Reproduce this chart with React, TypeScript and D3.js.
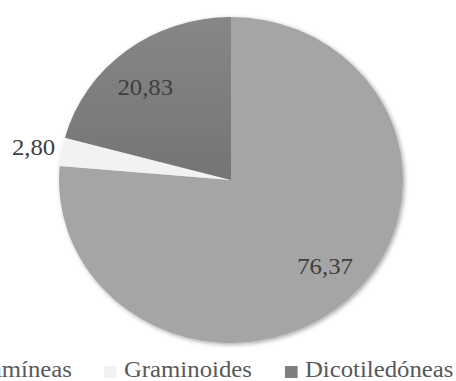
import React from "react";
import * as d3 from "d3";

// Share of each plant group (%)
const categories = ["Gramíneas", "Graminoides", "Dicotiledóneas"];
const values = [76.37, 2.8, 20.83];
const colors = ["#a5a5a5", "#f2f2f2", "#7f7f7f"];

const W = 456;
const H = 381;
const CX = 231;
const CY = 180;
const R = 163;
const SX = 1.055; // horizontal stretch of the whole drawing
const FONT = "Liberation Serif, Times New Roman, serif";

const fmt = (v: number) => d3.format(".2f")(v).replace(".", ",");

export default function App() {
  const pie = d3
    .pie<number>()
    .sort(null)
    .value((d) => d);
  const arcs = pie(values);
  const arc = d3.arc<d3.PieArcDatum<number>>().innerRadius(0).outerRadius(R);

  // label placement: small slices go outside, the rest sit inside
  const labelPos = (a: d3.PieArcDatum<number>) => {
    const share = (a.endAngle - a.startAngle) / (2 * Math.PI);
    const mid = (a.startAngle + a.endAngle) / 2;
    const outside = share < 0.05;
    const ang = outside ? mid : mid - (3.5 * Math.PI) / 180;
    const r = outside ? R + 27 : R * 0.76;
    return [Math.sin(ang) * r, -Math.cos(ang) * r];
  };

  // legend layout (unstretched units); the row is wider than the chart
  const legendY = 377;
  const legendItems = [
    { x: 68.2, anchor: "end" as const, square: false },
    { x: 98.6, anchor: "start" as const, square: true },
    { x: 270.1, anchor: "start" as const, square: true },
  ];

  const textStyle = { fontFamily: FONT, fontSize: "23.5px" };

  return (
    <svg
      width={W}
      height={H}
      style={{ position: "absolute", left: 0, top: 0, background: "#fff" }}
    >
      <defs>
        <filter id="pieShadow" x="-10%" y="-10%" width="120%" height="120%">
          <feDropShadow dx="1.5" dy="1.5" stdDeviation="2.2" floodColor="#000" floodOpacity="0.35" />
        </filter>
        <linearGradient id="darkGrad" x1="0" y1="0" x2="0" y2="1">
          <stop offset="0%" stopColor="#878787" />
          <stop offset="100%" stopColor="#747474" />
        </linearGradient>
      </defs>
      <g transform={`translate(${CX},${CY}) scale(${SX},1)`}>
        <g filter="url(#pieShadow)">
          {arcs.map((a, i) => (
            <path
              key={categories[i]}
              d={arc(a) ?? ""}
              fill={i === 2 ? "url(#darkGrad)" : colors[i]}
            />
          ))}
        </g>
        {arcs.map((a, i) => {
          const [x, y] = labelPos(a);
          return (
            <text
              key={"l" + i}
              x={x}
              y={y + 8}
              textAnchor="middle"
              style={textStyle}
              fill="#404040"
            >
              {fmt(values[i])}
            </text>
          );
        })}
      </g>
      <g transform={`scale(${SX},1)`}>
        {legendItems.map((it, i) => (
          <g key={"lg" + i}>
            {it.square && (
              <rect x={it.x} y={legendY - 11} width={12} height={12} fill={colors[i]} />
            )}
            <text
              x={it.square ? it.x + 18.9 : it.x}
              y={legendY}
              textAnchor={it.anchor}
              style={textStyle}
              fill="#595959"
            >
              {categories[i]}
            </text>
          </g>
        ))}
      </g>
    </svg>
  );
}
